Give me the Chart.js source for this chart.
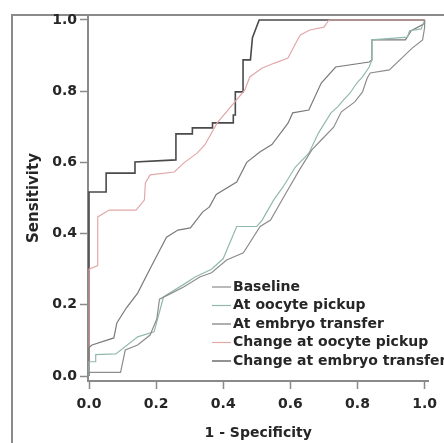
<!DOCTYPE html>
<html>
<head>
<meta charset="utf-8">
<script src="https://cdn.jsdelivr.net/npm/chart.js@4"></script>
<style>
  html, body { margin: 0; padding: 0; background: #fff; overflow: hidden; }
  canvas { display: block; }
</style>
</head>
<body>
<canvas id="rocChart" width="444" height="443"></canvas>
<script>
// ROC curves, values
const seriesLabels = ['Baseline', 'At oocyte pickup', 'At embryo transfer', 'Change at oocyte pickup', 'Change at embryo transfer'];
const tickValues = [0, 0.2, 0.4, 0.6, 0.8, 1.0];

const baselineFpr = [0, 0, 0.094, 0.108, 0.145, 0.182, 0.202, 0.21, 0.24, 0.282, 0.33, 0.365, 0.41, 0.46, 0.51, 0.541, 0.587, 0.627, 0.664, 0.692, 0.729, 0.752, 0.792, 0.815, 0.829, 0.838, 0.895, 0.963, 0.994, 1.0, 1.0];
const baselineTpr = [0, 0.01, 0.01, 0.073, 0.087, 0.115, 0.16, 0.216, 0.23, 0.25, 0.278, 0.29, 0.326, 0.346, 0.42, 0.438, 0.514, 0.579, 0.635, 0.663, 0.699, 0.742, 0.77, 0.798, 0.837, 0.851, 0.86, 0.921, 0.944, 0.978, 1.0];

const oocyteFpr = [0, 0, 0.02, 0.02, 0.08, 0.145, 0.194, 0.202, 0.222, 0.24, 0.28, 0.316, 0.365, 0.40, 0.44, 0.50, 0.516, 0.55, 0.578, 0.615, 0.655, 0.684, 0.721, 0.741, 0.758, 0.778, 0.798, 0.815, 0.835, 0.843, 0.843, 0.949, 0.955, 0.99, 1.0];
const oocyteTpr = [0, 0.04, 0.04, 0.06, 0.062, 0.11, 0.124, 0.152, 0.222, 0.233, 0.256, 0.278, 0.30, 0.33, 0.42, 0.42, 0.438, 0.494, 0.531, 0.587, 0.626, 0.683, 0.739, 0.756, 0.775, 0.795, 0.823, 0.84, 0.868, 0.888, 0.944, 0.952, 0.97, 0.975, 1.0];

const transferFpr = [0, 0, 0.009, 0.074, 0.083, 0.111, 0.145, 0.18, 0.211, 0.231, 0.265, 0.302, 0.339, 0.359, 0.379, 0.44, 0.47, 0.51, 0.545, 0.593, 0.607, 0.655, 0.692, 0.735, 0.835, 0.843, 0.843, 0.943, 0.96, 1.0, 1.0];
const transferTpr = [0, 0.08, 0.087, 0.107, 0.149, 0.191, 0.233, 0.298, 0.354, 0.39, 0.41, 0.416, 0.461, 0.475, 0.51, 0.545, 0.60, 0.63, 0.65, 0.71, 0.739, 0.747, 0.823, 0.868, 0.882, 0.888, 0.944, 0.944, 0.97, 0.99, 1.0];

const changeOocyteFpr = [0, 0, 0.026, 0.026, 0.06, 0.14, 0.165, 0.168, 0.182, 0.254, 0.282, 0.322, 0.345, 0.382, 0.464, 0.479, 0.516, 0.553, 0.593, 0.621, 0.63, 0.658, 0.70, 0.715, 1.0];
const changeOocyteTpr = [0, 0.30, 0.31, 0.447, 0.466, 0.466, 0.494, 0.542, 0.565, 0.573, 0.598, 0.626, 0.649, 0.711, 0.803, 0.84, 0.865, 0.879, 0.893, 0.944, 0.958, 0.972, 0.98, 1.0, 1.0];

const changeTransferFpr = [0, 0, 0.051, 0.051, 0.137, 0.137, 0.259, 0.259, 0.308, 0.308, 0.368, 0.368, 0.43, 0.43, 0.436, 0.436, 0.459, 0.459, 0.481, 0.487, 0.507, 1.0];
const changeTransferTpr = [0, 0.517, 0.517, 0.570, 0.570, 0.601, 0.607, 0.68, 0.68, 0.697, 0.697, 0.711, 0.711, 0.733, 0.733, 0.798, 0.798, 0.888, 0.888, 0.95, 1.0, 1.0];

const seriesColors = ['#8d8d8d', '#93b8b0', '#7a7a7a', '#e3a8a8', '#4a4a4a'];
const seriesWidths = [1.2, 1.2, 1.2, 1.2, 1.6];

function toPoints(xs, ys) {
    return xs.map((x, i) => ({ x: x, y: ys[i] }));
}

const seriesData = [
    toPoints(baselineFpr, baselineTpr),
    toPoints(oocyteFpr, oocyteTpr),
    toPoints(transferFpr, transferTpr),
    toPoints(changeOocyteFpr, changeOocyteTpr),
    toPoints(changeTransferFpr, changeTransferTpr)
];

const axisGrey = '#8a8a8a';
const textColor = '#262626';
const fontFamily = '"DejaVu Sans", sans-serif';

// outer frame of the figure (left + top edge)
const framePlugin = {
    id: 'frame',
    beforeDraw(chart) {
        const { ctx, chartArea } = chart;
        ctx.save();
        ctx.fillStyle = '#fff';
        ctx.fillRect(0, 0, chart.width, chart.height);
        ctx.strokeStyle = axisGrey;
        ctx.lineWidth = 2;
        ctx.beginPath();
        ctx.moveTo(12, chart.height);
        ctx.lineTo(12, chartArea.top);
        ctx.lineTo(chart.width, chartArea.top);
        ctx.stroke();
        ctx.restore();
    }
};

// legend drawn inside the plot, SPSS style
const insideLegend = {
    id: 'insideLegend',
    afterDatasetsDraw(chart) {
        const { ctx, chartArea } = chart;
        const x0 = chartArea.left + 124;
        let y = chartArea.top + 272;
        ctx.save();
        ctx.font = 'bold 14px ' + fontFamily;
        ctx.textBaseline = 'middle';
        chart.data.datasets.forEach(ds => {
            ctx.strokeStyle = ds.borderColor;
            ctx.lineWidth = 1.2;
            ctx.beginPath();
            ctx.moveTo(x0, y);
            ctx.lineTo(x0 + 19, y);
            ctx.stroke();
            ctx.fillStyle = textColor;
            ctx.fillText(ds.label, x0 + 21, y);
            y += 18.5;
        });
        ctx.restore();
    }
};

const ctx = document.getElementById('rocChart').getContext('2d');
new Chart(ctx, {
    type: 'scatter',
    data: {
        datasets: seriesData.map((pts, i) => ({
            label: seriesLabels[i],
            data: pts,
            showLine: true,
            borderColor: seriesColors[i],
            borderWidth: seriesWidths[i],
            pointRadius: 0,
            tension: 0,
            fill: false
        }))
    },
    options: {
        responsive: false,
        animation: false,
        devicePixelRatio: 1,
        layout: { padding: { top: 15, left: 0, right: 0, bottom: 0 } },
        plugins: {
            legend: { display: false },
            tooltip: { enabled: false }
        },
        scales: {
            x: {
                type: 'linear',
                min: -0.003,
                max: 1.0114,
                afterBuildTicks: axis => { axis.ticks = tickValues.map(v => ({ value: v })); },
                afterFit: axis => { axis.height = 62; },
                border: { color: axisGrey, width: 2 },
                grid: { drawOnChartArea: false, color: axisGrey, tickLength: 8, tickWidth: 1.5 },
                ticks: {
                    color: textColor,
                    padding: 7,
                    maxRotation: 0,
                    font: { family: fontFamily, size: 14, weight: 'bold' },
                    callback: v => v.toFixed(1)
                },
                title: {
                    display: true,
                    text: '1 - Specificity',
                    color: textColor,
                    padding: { top: 0, bottom: 1 },
                    font: { family: fontFamily, size: 14, weight: 'bold' }
                }
            },
            y: {
                type: 'linear',
                min: -0.014,
                max: 1.014,
                afterBuildTicks: axis => { axis.ticks = tickValues.map(v => ({ value: v })); },
                afterFit: axis => { axis.width = 88; },
                border: { color: axisGrey, width: 2 },
                grid: { drawOnChartArea: false, color: axisGrey, tickLength: 8, tickWidth: 1.5 },
                ticks: {
                    color: textColor,
                    padding: 3,
                    font: { family: fontFamily, size: 14, weight: 'bold' },
                    callback: v => v.toFixed(1)
                },
                title: {
                    display: true,
                    text: 'Sensitivity',
                    color: textColor,
                    padding: { top: 25, bottom: 0 },
                    font: { family: fontFamily, size: 15, weight: 'bold' }
                }
            }
        }
    },
    plugins: [framePlugin, insideLegend]
});
</script>
</body>
</html>
